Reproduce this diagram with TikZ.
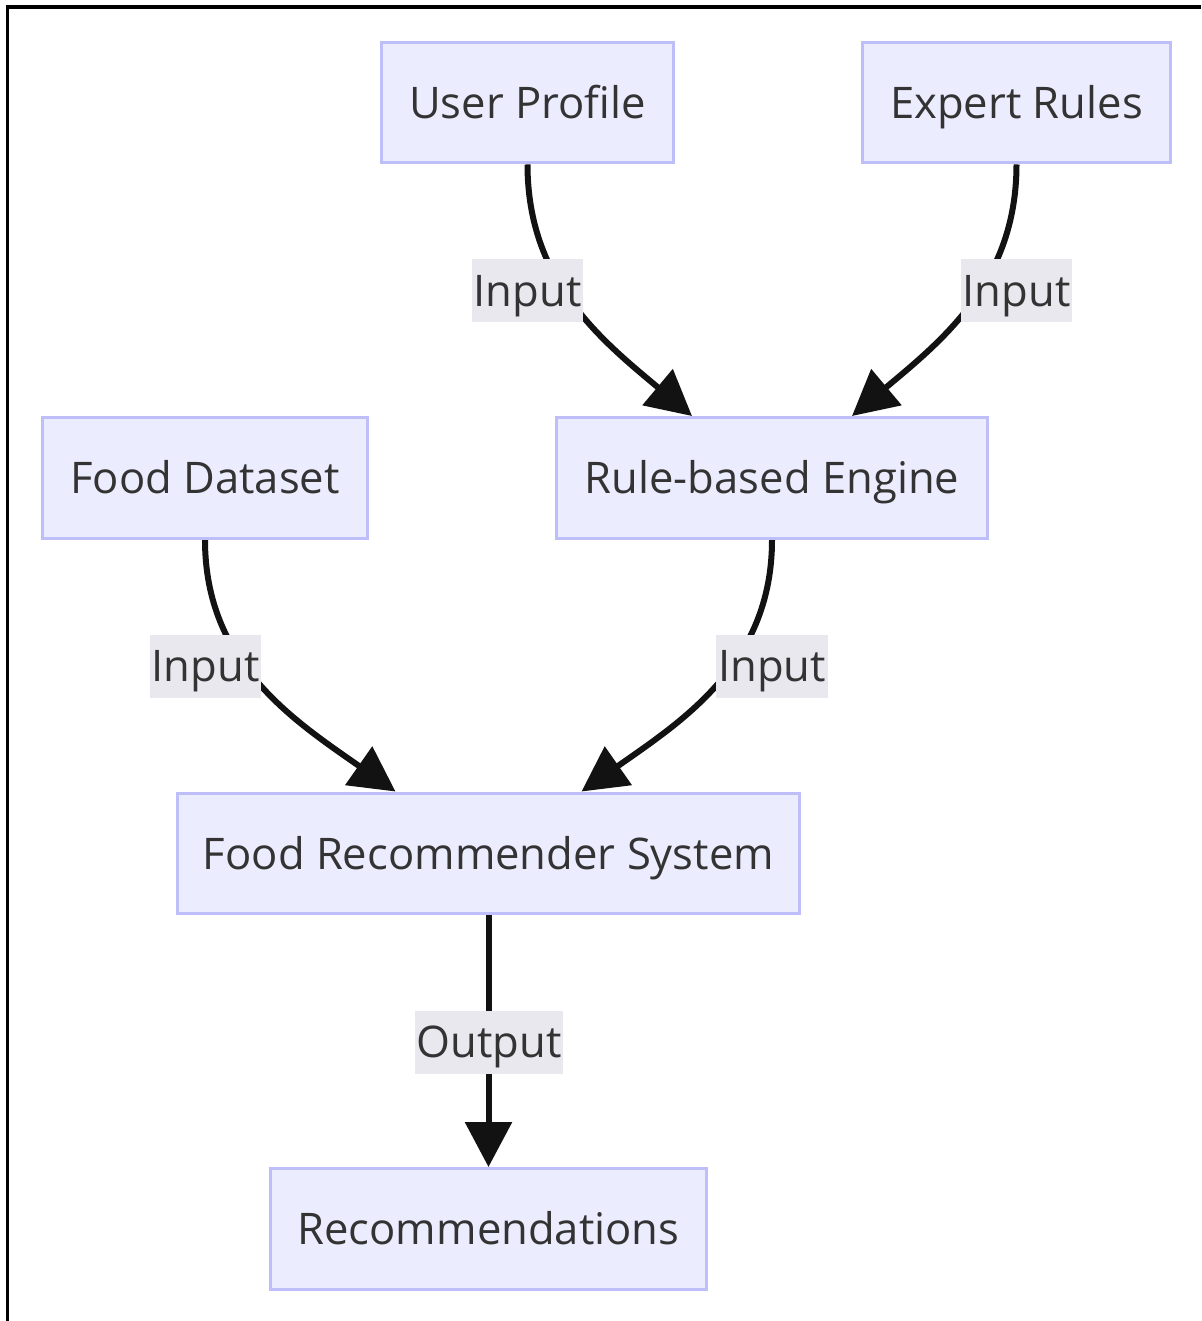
\documentclass[tikz,border=0pt]{standalone}
\usepackage{fontspec}
\setmainfont{Open Sans}
\usetikzlibrary{arrows.meta,calc,backgrounds}
\definecolor{boxfill}{RGB}{236,236,255}
\definecolor{boxline}{RGB}{190,190,248}
\definecolor{lblfill}{RGB}{232,232,238}
\definecolor{txtcolor}{RGB}{51,51,51}

\begin{document}
\begin{tikzpicture}[x=0.02cm,y=-0.02cm,
    block/.style={draw=boxline,fill=boxfill,line width=0.06cm,minimum height=2.42cm,
        text height=18pt,text depth=0pt,
        text=txtcolor,font=\fontsize{24.8}{29}\selectfont},
    lbl/.style={fill=lblfill,inner xsep=1pt,inner ysep=0pt,minimum height=1.26cm,
        text height=18pt,text depth=0pt,
        text=txtcolor,font=\fontsize{24.8}{29}\selectfont},
    flow/.style={line width=0.12cm,draw=black!93,-{Triangle[length=0.9cm,width=0.92cm]}}]
    % Page size and frame
    \useasboundingbox (0,0) rectangle (1201,1321);
    \draw[line width=0.08cm] (7.5,1321) -- (7.5,7) -- (1201,7);

    % Inputs
    \node[block,minimum width=5.86cm] (user) at (527.5,102.5) {User Profile};
    \node[block,minimum width=6.18cm] (expert) at (1016.5,102.5) {Expert Rules};
    \node[block,minimum width=6.52cm] (food) at (205,478) {Food Dataset};

    % Engine and system
    \node[block,minimum width=8.64cm] (eng) at (772,478) {Rule-based Engine};
    \node[block,minimum width=12.46cm] (frs) at (488.5,853.5) {Food Recommender System};
    \node[block,minimum width=8.74cm] (rec) at (488.5,1229) {Recommendations};

    % Edge labels
    \node[lbl] (l1) at (527.5,290.5) {Input};
    \node[lbl] (l2) at (1016.5,290.5) {Input};
    \node[lbl] (l3) at (205.5,666) {Input};
    \node[lbl] (l4) at (772,666) {Input};
    \node[lbl] (l5) at (489,1042) {Output};

    % Connectors (behind the labels)
    \begin{scope}[on background layer]
        \draw[flow] (user.south) to[out=-90,in=140] ($(eng.north)+(-80,0)$);
        \draw[flow] (expert.south) to[out=-90,in=40] ($(eng.north)+(80,0)$);
        \draw[flow] (food.south) to[out=-90,in=145] ($(frs.north)+(-93,0)$);
        \draw[flow] (eng.south) to[out=-90,in=35] ($(frs.north)+(93,0)$);
        \draw[flow] (frs.south) -- (rec.north);
    \end{scope}
\end{tikzpicture}
\end{document}
